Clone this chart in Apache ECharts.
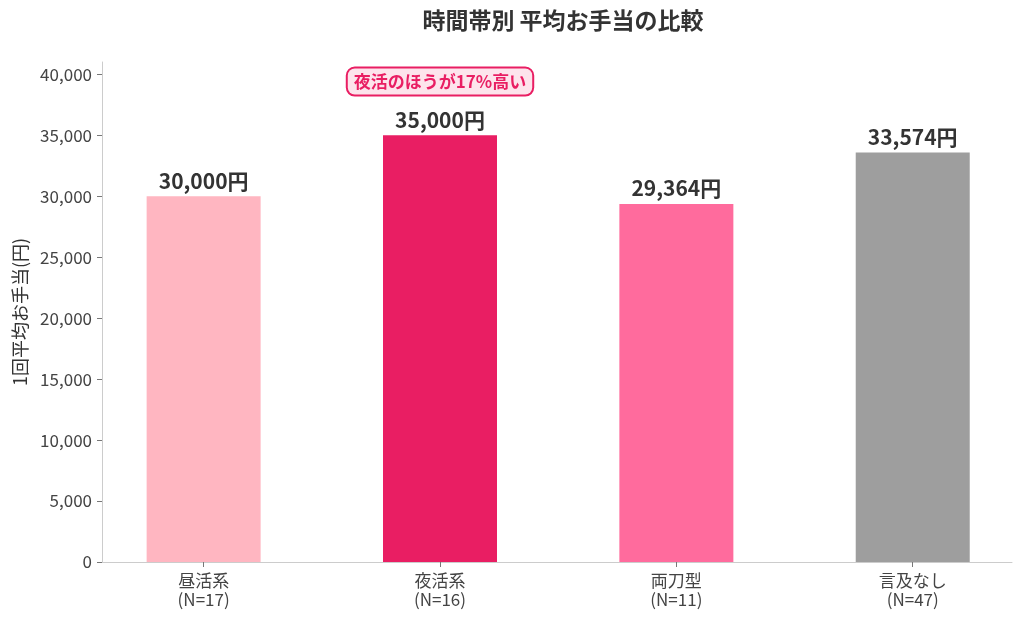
<!DOCTYPE html>
<html>
<head>
<meta charset="utf-8">
<script src="https://cdn.jsdelivr.net/npm/echarts@6/dist/echarts.min.js"></script>
<style>
  html, body { margin: 0; padding: 0; background: #fff; }
  #chart { width: 1024px; height: 622px; }
</style>
</head>
<body>
<div id="chart"></div>
<script>
// 時間帯別の平均お手当
const categories = ['昼活系', '夜活系', '両刀型', '言及なし']
const counts = [17, 16, 11, 47]
const values = [30000, 35000, 29364, 33574]
const barColors = ['#FFB6C1', '#E91E63', '#FF6B9D', '#9E9E9E']
const yTicks = [0, 5000, 10000, 15000, 20000, 25000, 30000, 35000, 40000]
const note = '夜活のほうが17%高い'

const font = '"Noto Sans CJK JP", "Noto Sans", sans-serif'
const fmt = v => v.toLocaleString('en-US')

const chart = echarts.init(document.getElementById('chart'))
chart.setOption({
  animation: false,
  textStyle: { fontFamily: font },
  title: {
    text: '時間帯別 平均お手当の比較',
    left: 558,
    top: 4,
    textAlign: 'center',
    textStyle: { fontSize: 23, fontWeight: 'bold', color: '#333', fontFamily: font },
  },
  grid: { left: 102, right: 12, top: 62, bottom: 60 },
  xAxis: {
    type: 'value',
    min: -0.43,
    max: 3.42,
    splitLine: { show: false },
    axisLine: { show: true, onZero: false, lineStyle: { color: '#ccc' } },
    axisTick: { show: true, customValues: [0, 1, 2, 3], length: 5, lineStyle: { color: '#777' } },
    axisLabel: {
      customValues: [0, 1, 2, 3],
      formatter: v => categories[v] + '\n(N=' + counts[v] + ')',
      color: '#444',
      fontSize: 17,
      lineHeight: 19,
      margin: 9,
    },
  },
  yAxis: {
    type: 'value',
    min: 0,
    max: 41000,
    name: '1回平均お手当(円)',
    nameLocation: 'middle',
    nameGap: 71,
    nameTextStyle: { fontSize: 18, color: '#333' },
    splitLine: { show: false },
    axisLine: { show: true, onZero: false, lineStyle: { color: '#ccc' } },
    axisTick: { show: true, customValues: yTicks, length: 5, lineStyle: { color: '#777' } },
    axisLabel: { customValues: yTicks, formatter: fmt, color: '#444', fontSize: 17, margin: 10 },
  },
  series: [{
    type: 'bar',
    barWidth: 114,
    data: values.map((v, i) => ({ value: [i, v], itemStyle: { color: barColors[i] } })),
    label: {
      show: true,
      position: 'top',
      distance: 5,
      formatter: p => fmt(p.value[1]) + '円',
      fontSize: 21,
      fontWeight: 'bold',
      color: '#333',
    },
    markPoint: {
      symbol: 'rect',
      symbolSize: 0,
      data: [{ coord: [1, 39400] }],
      label: {
        show: true,
        position: 'inside',
        formatter: note,
        color: '#E91E63',
        fontSize: 17,
        fontWeight: 'bold',
        backgroundColor: '#FDE4EC',
        borderColor: '#E91E63',
        borderWidth: 2,
        borderRadius: 7,
        padding: [5, 6, 4, 6],
      },
    },
  }],
})
</script>
</body>
</html>
